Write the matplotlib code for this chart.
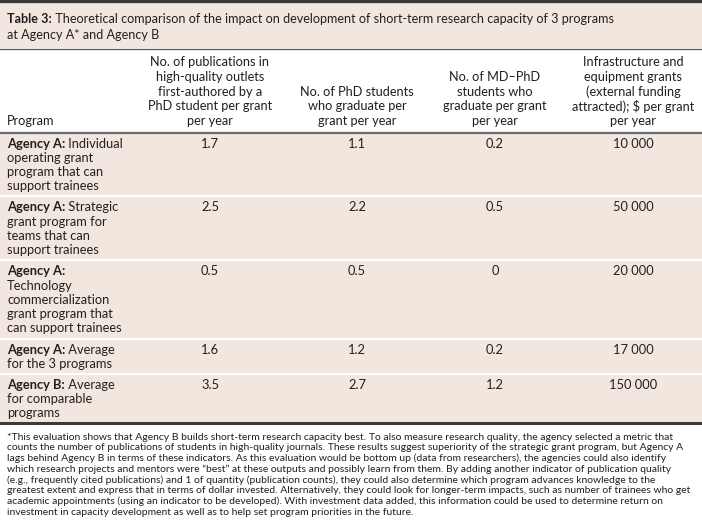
import matplotlib
matplotlib.use("Agg")
import matplotlib.pyplot as plt
from matplotlib.patches import Rectangle

# table content
title_bold = "Table 3:"
title_lines = [" Theoretical comparison of the impact on development of short-term research capacity of 3 programs",
               "at Agency A* and Agency B"]

headers = [["Program"],
           ["No. of publications in", "high-quality outlets", "first-authored by a",
            "PhD student per grant", "per year"],
           ["No. of PhD students", "who graduate per", "grant per year"],
           ["No. of MD\u2013PhD", "students who", "graduate per grant", "per year"],
           ["Infrastructure and", "equipment grants", "(external funding",
            "attracted); $ per grant", "per year"]]

agency = ["Agency A:", "Agency A:", "Agency A:", "Agency A:", "Agency B:"]
program_lines = [[" Individual", "operating grant", "program that can", "support trainees"],
                 [" Strategic", "grant program for", "teams that can", "support trainees"],
                 ["", "Technology", "commercialization", "grant program that", "can support trainees"],
                 [" Average", "for the 3 programs"],
                 [" Average", "for comparable", "programs"]]

pubs = [1.7, 2.5, 0.5, 1.6, 3.5]
phd = [1.1, 2.2, 0.5, 1.2, 2.7]
mdphd = [0.2, 0.5, 0, 0.2, 1.2]
infra = [10000, 50000, 20000, 17000, 150000]

footnote = [
    "*This evaluation shows that Agency B builds short-term research capacity best. To also measure research quality, the agency selected a metric that",
    "counts the number of publications of students in high-quality journals. These results suggest superiority of the strategic grant program, but Agency A",
    "lags behind Agency B in terms of these indicators. As this evaluation would be bottom up (data from researchers), the agencies could also identify",
    "which research projects and mentors were \u201cbest\u201d at these outputs and possibly learn from them. By adding another indicator of publication quality",
    "(e.g., frequently cited publications) and 1 of quantity (publication counts), they could also determine which program advances knowledge to the",
    "greatest extent and express that in terms of dollar invested. Alternatively, they could look for longer-term impacts, such as number of trainees who get",
    "academic appointments (using an indicator to be developed). With investment data added, this information could be used to determine return on",
    "investment in capacity development as well as to help set program priorities in the future.",
]

FONT = "Lato"
BEIGE = "#f2e7df"
DARK = "#3a3a3a"
TXT = "#231f20"

W, H = 702, 530
fig = plt.figure(figsize=(W / 100, H / 100), dpi=100)
ax = fig.add_axes([0, 0, 1, 1])
ax.set_xlim(0, W)
ax.set_ylim(H, 0)
ax.axis("off")
renderer = fig.canvas.get_renderer()


def rich(x, y, bold, rest, size):
    t = ax.text(x, y, bold, fontsize=size, fontweight="bold", family=FONT,
                color=TXT, va="center")
    bb = t.get_window_extent(renderer)
    ax.text(x + bb.width, y, rest, fontsize=size, family=FONT, color=TXT, va="center")


# title band
ax.add_patch(Rectangle((0, 0), W, 48, color=BEIGE, lw=0))
ax.axhline(1.2, color=DARK, lw=2.4)
ax.axhline(48.5, color="#555555", lw=0.9)
rich(7, 19, title_bold, title_lines[0], 9.1)
ax.text(7, 35, title_lines[1], fontsize=9.1, family=FONT, color=TXT, va="center")

# header
col_x = [7, 210, 357, 495, 633]
hl = 14.75
for j, lines in enumerate(headers):
    n = len(lines)
    for i, s in enumerate(lines):
        y = 121 - (n - 1 - i) * hl
        ax.text(col_x[j], y, s, fontsize=9.2, family=FONT, color=TXT,
                va="center", ha="left" if j == 0 else "center")
ax.axhline(132.5, color="#6b6b6b", lw=1.6)

# body rows, height from number of lines
lh = 14.3
pad_top, pad_bot, sep = 10, 9, 2
top = 133.5
for r in range(5):
    n = len(program_lines[r])
    h = pad_top + (n - 1) * lh + pad_bot
    ax.add_patch(Rectangle((0, top), W, h, color=BEIGE, lw=0))
    y0 = top + pad_top
    rich(col_x[0], y0, agency[r], program_lines[r][0], 9.3)
    for i, s in enumerate(program_lines[r][1:]):
        ax.text(col_x[0], y0 + (i + 1) * lh, s, fontsize=9.3, family=FONT,
                color=TXT, va="center")
    vals = [f"{pubs[r]:g}", f"{phd[r]:g}", f"{mdphd[r]:g}",
            f"{infra[r]:,}".replace(",", " ")]
    for j, v in enumerate(vals):
        ax.text(col_x[j + 1], y0, v, fontsize=9.3, family=FONT, color=TXT,
                va="center", ha="center")
    top += h + sep
ax.axhline(top - sep + 0.5, color=DARK, lw=2.2)

# footnote
for i, s in enumerate(footnote):
    ax.text(7, 437 + i * 10.75, s, fontsize=7.5, family=FONT, color=TXT, va="center")

fig.savefig("out.png", dpi=100, facecolor="white")
